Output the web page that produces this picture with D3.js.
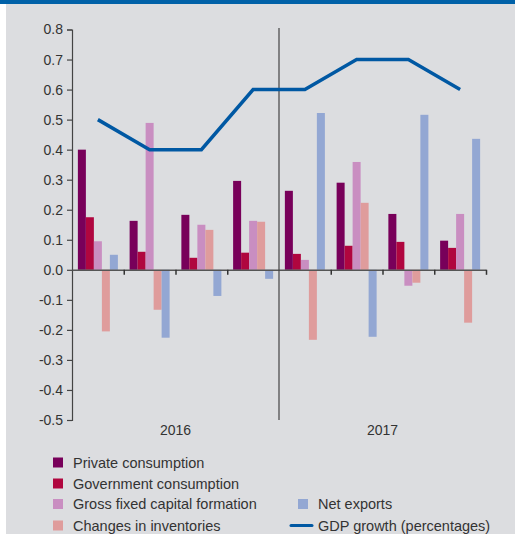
<!DOCTYPE html>
<html>
<head>
<meta charset="utf-8">
<script src="https://cdn.jsdelivr.net/npm/d3@7"></script>
<style>
  html, body { margin: 0; padding: 0; background: #ffffff; }
  svg { display: block; font-family: "Liberation Sans", Arial, sans-serif; }
</style>
</head>
<body>
<svg id="chart" width="515" height="534"></svg>
<script>
// Quarters and contribution series (percentage points)
const quarters = ["2016Q1", "2016Q2", "2016Q3", "2016Q4", "2017Q1", "2017Q2", "2017Q3", "2017Q4"];
const years = ["2016", "2017"];
const seriesNames = ["Private consumption", "Government consumption", "Gross fixed capital formation", "Changes in inventories", "Net exports"];
const privateConsumption = [0.40, 0.163, 0.183, 0.296, 0.263, 0.29, 0.186, 0.097];
const governmentConsumption = [0.175, 0.06, 0.04, 0.057, 0.053, 0.08, 0.093, 0.073];
const grossFixedCapital = [0.095, 0.489, 0.15, 0.163, 0.033, 0.359, -0.053, 0.186];
const inventoryChanges = [-0.205, -0.133, 0.133, 0.16, -0.233, 0.223, -0.043, -0.176];
const netExports = [0.05, -0.226, -0.087, -0.03, 0.522, -0.223, 0.516, 0.436];
const gdpGrowth = [0.5, 0.4, 0.4, 0.6, 0.6, 0.7, 0.7, 0.6];
const yTickValues = [0.8, 0.7, 0.6, 0.5, 0.4, 0.3, 0.2, 0.1, 0.0, -0.1, -0.2, -0.3, -0.4, -0.5];
const yTickLabels = ["0.8", "0.7", "0.6", "0.5", "0.4", "0.3", "0.2", "0.1", "0.0", "-0.1", "-0.2", "-0.3", "-0.4", "-0.5"];
const lineName = "GDP growth (percentages)";

const seriesValues = [privateConsumption, governmentConsumption, grossFixedCapital, inventoryChanges, netExports];
const colors = ["#78005a", "#b0063f", "#c98ec1", "#df9c9c", "#93a7d3"];
const lineColor = "#0058a3";
const textColor = "#333333";

const svg = d3.select("#chart");

// page frame: blue header strip and grey panel
svg.append("rect").attr("x", 0).attr("y", 0).attr("width", 515).attr("height", 534).attr("fill", "#ffffff");
svg.append("rect").attr("x", 6).attr("y", 0).attr("width", 509).attr("height", 534).attr("fill", "#dcdde0");
svg.append("rect").attr("x", 0).attr("y", 0).attr("width", 515).attr("height", 4).attr("fill", "#0061a8");

const plot = { left: 72, right: 486, top: 29.5, bottom: 420 };

const y = d3.scaleLinear().domain([-0.5, 0.8]).range([plot.bottom, plot.top]);
const x0 = d3.scaleBand().domain(quarters).range([plot.left, plot.right]).padding(0);
const x1 = d3.scaleBand().domain(seriesNames).range([0, x0.bandwidth()]).paddingInner(0).paddingOuter(0.734);

// bars
const barData = [];
quarters.forEach((q, qi) => {
  seriesNames.forEach((s, si) => {
    barData.push({ q, s, si, v: seriesValues[si][qi] });
  });
});

svg.append("g").selectAll("rect")
  .data(barData)
  .join("rect")
  .attr("x", d => x0(d.q) + x1(d.s))
  .attr("width", x1.bandwidth())
  .attr("y", d => y(Math.max(0, d.v)))
  .attr("height", d => Math.abs(y(d.v) - y(0)))
  .attr("fill", d => colors[d.si]);

// y axis
const yAxis = d3.axisLeft(y)
  .tickValues(yTickValues)
  .tickFormat((d, i) => yTickLabels[i])
  .tickSizeOuter(0)
  .tickSize(5)
  .tickPadding(4);
const yG = svg.append("g").attr("transform", `translate(${plot.left},0)`).call(yAxis);
yG.select(".domain").attr("stroke", "#444").attr("stroke-width", 1.2);
yG.selectAll(".tick line").attr("stroke", "#444").attr("stroke-width", 1.2);
yG.selectAll(".tick text").attr("fill", textColor).style("font-size", "14px")
  .style("font-family", "'Liberation Sans', Arial, sans-serif");

// x axis at zero with ticks at quarter boundaries
const boundaries = quarters.map(q => x0(q) + x0.bandwidth()).filter((b, i) => i !== 3);
const xAxisScale = d3.scaleLinear().domain([plot.left, plot.right]).range([plot.left, plot.right]);
const xAxis = d3.axisBottom(xAxisScale).tickValues(boundaries).tickFormat("").tickSize(5).tickSizeOuter(0);
const xG = svg.append("g").attr("transform", `translate(0,${y(0)})`).call(xAxis);
xG.select(".domain").attr("stroke", "#555").attr("stroke-width", 1.5);
xG.selectAll(".tick line").attr("stroke", "#333").attr("stroke-width", 1.5);

// year separator
const sepX = x0(quarters[4]);
svg.append("line")
  .attr("x1", sepX).attr("x2", sepX)
  .attr("y1", 28).attr("y2", plot.bottom)
  .attr("stroke", "#444").attr("stroke-width", 1.2);

// year labels
years.forEach((yr, i) => {
  const start = x0(quarters[i * 4]);
  const end = x0(quarters[i * 4 + 3]) + x0.bandwidth();
  svg.append("text")
    .attr("x", (start + end) / 2)
    .attr("y", 435)
    .attr("text-anchor", "middle")
    .attr("fill", textColor)
    .style("font-size", "14px")
    .text(yr);
});

// GDP growth line
const line = d3.line()
  .x((d, i) => x0(quarters[i]) + x0.bandwidth() / 2)
  .y(d => y(d));
svg.append("path")
  .datum(gdpGrowth)
  .attr("d", line)
  .attr("fill", "none")
  .attr("stroke", lineColor)
  .attr("stroke-width", 3.5)
  .attr("stroke-linejoin", "miter");

// legend
const legendItems = [
  { name: seriesNames[0], color: colors[0], x: 53, y: 462.5, type: "box" },
  { name: seriesNames[1], color: colors[1], x: 53, y: 483.5, type: "box" },
  { name: seriesNames[2], color: colors[2], x: 53, y: 504, type: "box" },
  { name: seriesNames[3], color: colors[3], x: 53, y: 525.5, type: "box" },
  { name: seriesNames[4], color: colors[4], x: 298, y: 504, type: "box" },
  { name: lineName, color: lineColor, x: 298, y: 525.5, type: "line" }
];
const lg = svg.append("g");
legendItems.forEach(it => {
  if (it.type === "box") {
    lg.append("rect").attr("x", it.x).attr("y", it.y - 5).attr("width", 10).attr("height", 10).attr("fill", it.color);
  } else {
    lg.append("line").attr("x1", it.x - 7).attr("x2", it.x + 14).attr("y1", it.y).attr("y2", it.y)
      .attr("stroke", it.color).attr("stroke-width", 3).attr("stroke-linecap", "round");
  }
  lg.append("text")
    .attr("x", it.x + 20)
    .attr("y", it.y + 5)
    .attr("fill", textColor)
    .style("font-size", "14.5px")
    .text(it.name);
});
</script>
</body>
</html>
